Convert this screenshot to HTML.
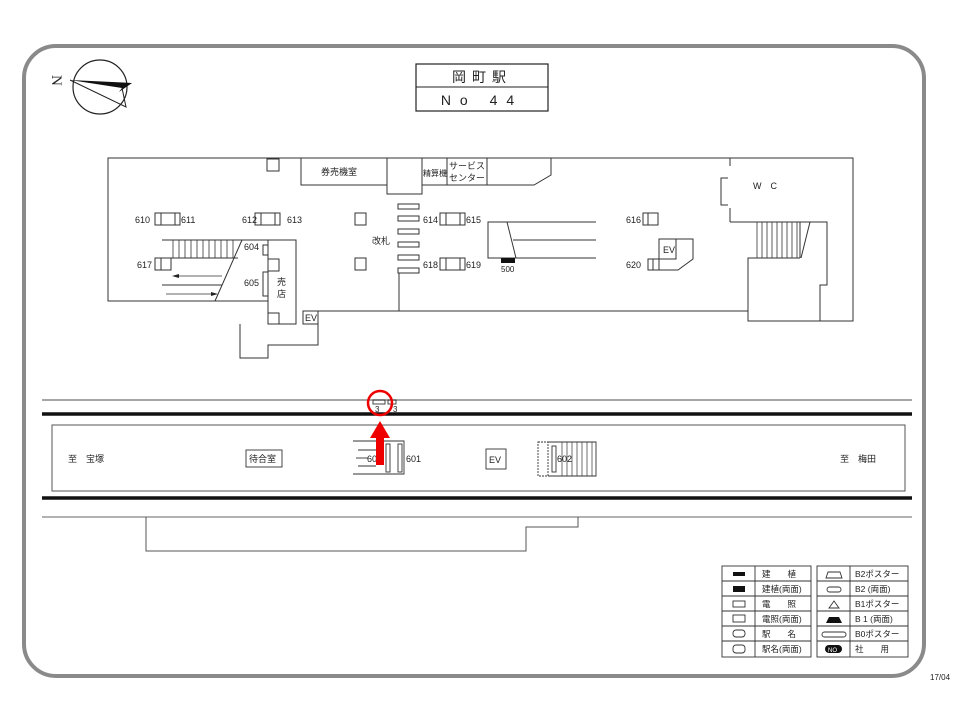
<!DOCTYPE html>
<html><head><meta charset="utf-8"><style>
body{margin:0;background:#fff}
svg{display:block;font-family:"Liberation Sans","Noto Sans CJK JP",sans-serif}
text{fill:#222}
</style></head><body>
<svg width="960" height="720" viewBox="0 0 960 720" xmlns="http://www.w3.org/2000/svg">
<rect x="24" y="46" width="900" height="630" rx="32" fill="#fff" stroke="#8a8a8a" stroke-width="4"/>
<!-- compass -->
<circle cx="100" cy="87" r="27" fill="none" stroke="#222" stroke-width="1.2"/>
<polygon points="70,80 132,83 119,92 122,88" fill="#111"/>
<polyline points="70,80 126,107 122,88" fill="none" stroke="#222" stroke-width="1"/>
<text x="0" y="0" font-size="15" font-family="Liberation Serif,serif" transform="translate(52,75) rotate(90)">N</text>
<!-- title -->
<rect x="416" y="64" width="132" height="47" fill="none" stroke="#222" stroke-width="1.2"/>
<line x1="416" y1="87" x2="548" y2="87" stroke="#222"/>
<text x="482" y="82" font-size="14" text-anchor="middle" letter-spacing="6">岡町駅</text>
<text x="482" y="105" font-size="14" text-anchor="middle" letter-spacing="9">No 44</text>
<g fill="none" stroke="#333" stroke-width="1">
<polyline points="318,311 748,311 748,321 853,321 853,158 108,158 108,301 268,301"/>
<polyline points="240,324 240,358 268,358 268,345 318,345 318,311"/>
<rect x="268" y="240" width="28" height="84"/>
<rect x="268" y="259" width="11" height="12"/>
<rect x="268" y="313" width="11" height="11"/>
<rect x="303" y="311" width="15" height="13"/>
<line x1="162" y1="240" x2="268" y2="240"/>
<line x1="242" y1="240" x2="215" y2="301"/>
<line x1="170" y1="258" x2="238" y2="258"/>
<line x1="162" y1="285" x2="222" y2="285"/>
<rect x="263" y="245" width="5" height="10"/>
<rect x="263" y="272" width="5" height="24"/>
<rect x="301" y="158" width="86" height="27"/>
<rect x="387" y="158" width="35" height="36"/>
<rect x="422" y="158" width="25" height="27"/>
<rect x="447" y="158" width="40" height="27"/>
<polyline points="487,185 534,185 551,175 551,158"/>
<rect x="267" y="159" width="12" height="12"/>
<rect x="355" y="213" width="11" height="12"/>
<rect x="355" y="258" width="11" height="12"/>
<rect x="398" y="204" width="21" height="5"/>
<rect x="398" y="216" width="21" height="5"/>
<rect x="398" y="229" width="21" height="5"/>
<rect x="398" y="242" width="21" height="5"/>
<rect x="398" y="255" width="21" height="5"/>
<rect x="398" y="268" width="21" height="5"/>
<line x1="399" y1="273" x2="399" y2="311"/>
<rect x="155" y="213" width="6" height="12"/><rect x="161" y="213" width="14" height="12"/><rect x="175" y="213" width="5" height="12"/>
<rect x="255" y="213" width="6" height="12"/><rect x="261" y="213" width="14" height="12"/><rect x="275" y="213" width="5" height="12"/>
<rect x="440" y="213" width="6" height="12"/><rect x="446" y="213" width="14" height="12"/><rect x="460" y="213" width="5" height="12"/>
<rect x="440" y="258" width="6" height="12"/><rect x="446" y="258" width="14" height="12"/><rect x="460" y="258" width="5" height="12"/>
<rect x="155" y="258" width="6" height="12"/><rect x="161" y="258" width="10" height="12"/>
<polyline points="596,222 488,222 488,258 596,258"/>
<line x1="513" y1="240" x2="596" y2="240"/>
<line x1="507" y1="222" x2="516" y2="258"/>
<rect x="643" y="213" width="5" height="12"/><rect x="648" y="213" width="10" height="12"/>
<rect x="659" y="239" width="17" height="20"/>
<polyline points="676,239 693,239 693,259 678,270 648,270 648,259 676,259"/>
<line x1="653" y1="259" x2="653" y2="270"/><line x1="659" y1="259" x2="659" y2="270"/>
<line x1="730" y1="158" x2="730" y2="166"/>
<line x1="730" y1="208" x2="730" y2="222"/>
<polyline points="728,178 721,178 721,205 728,205"/>
<polyline points="730,222 827,222 827,285 820,285 820,321"/>
<polyline points="748,321 748,258 800,258"/>
<line x1="800" y1="222" x2="800" y2="258"/>
<line x1="810" y1="222" x2="801" y2="258"/>
</g>
<g stroke="#333" stroke-width="0.8">
<line x1="173" y1="240" x2="173" y2="258"/><line x1="179" y1="240" x2="179" y2="258"/><line x1="185" y1="240" x2="185" y2="258"/><line x1="191" y1="240" x2="191" y2="258"/><line x1="197" y1="240" x2="197" y2="258"/><line x1="203" y1="240" x2="203" y2="258"/><line x1="209" y1="240" x2="209" y2="258"/><line x1="215" y1="240" x2="215" y2="258"/><line x1="221" y1="240" x2="221" y2="258"/><line x1="227" y1="240" x2="227" y2="258"/><line x1="233" y1="240" x2="233" y2="258"/>
<line x1="757" y1="222" x2="757" y2="258"/><line x1="762" y1="222" x2="762" y2="258"/><line x1="767" y1="222" x2="767" y2="258"/><line x1="772" y1="222" x2="772" y2="258"/><line x1="777" y1="222" x2="777" y2="258"/><line x1="782" y1="222" x2="782" y2="258"/><line x1="787" y1="222" x2="787" y2="258"/><line x1="792" y1="222" x2="792" y2="258"/><line x1="797" y1="222" x2="797" y2="258"/>
<line x1="222" y1="276" x2="176" y2="276"/><line x1="166" y1="294" x2="214" y2="294"/>
</g>
<polygon points="172,276 179,274 179,278" fill="#222"/><polygon points="218,294 211,292 211,296" fill="#222"/>
<rect x="501" y="258" width="14" height="5" fill="#111"/>
<g font-size="9">
<text x="135" y="223">610</text><text x="181" y="223">611</text>
<text x="242" y="223">612</text><text x="287" y="223">613</text>
<text x="423" y="223">614</text><text x="466" y="223">615</text>
<text x="423" y="268">618</text><text x="466" y="268">619</text>
<text x="137" y="268">617</text><text x="244" y="250">604</text><text x="244" y="286">605</text>
<text x="626" y="223">616</text><text x="626" y="268">620</text>
<text x="501" y="272" font-size="8">500</text>
<text x="305" y="321">EV</text><text x="663" y="253">EV</text>
<text x="321" y="175">券売機室</text><text x="423" y="176" font-size="8">精算機</text>
<text x="449" y="169">サービス</text><text x="449" y="181">センター</text>
<text x="372" y="244">改札</text><text x="277" y="285">売</text><text x="277" y="297">店</text>
<text x="753" y="189">W　C</text>
</g>
<line x1="42" y1="400" x2="912" y2="400" stroke="#888" stroke-width="1.5"/>
<line x1="42" y1="414" x2="912" y2="414" stroke="#111" stroke-width="3.5"/>
<rect x="52" y="425" width="853" height="66" fill="none" stroke="#555" stroke-width="1"/>
<line x1="42" y1="498" x2="912" y2="498" stroke="#111" stroke-width="3.5"/>
<line x1="42" y1="517" x2="912" y2="517" stroke="#666" stroke-width="1"/>
<polyline points="146,517 146,551 526,551 526,527 578,527 578,517" fill="none" stroke="#555"/>
<g fill="none" stroke="#333" stroke-width="0.9">
<rect x="373" y="400" width="12" height="4"/><rect x="388" y="400" width="8" height="4"/>
<rect x="246" y="450" width="36" height="17"/>
<rect x="486" y="449" width="20" height="20"/>
<polyline points="353,441 404,441 404,474 353,474"/>
<rect x="386" y="444" width="4" height="28"/><rect x="398" y="444" width="4" height="28"/>
<line x1="356" y1="458" x2="368" y2="458"/>
<line x1="358" y1="450" x2="376" y2="450"/><line x1="358" y1="466" x2="376" y2="466"/>
<rect x="538" y="442" width="10" height="34" stroke-dasharray="2,1"/>
<polyline points="548,442 596,442 596,476 548,476"/>
<rect x="552" y="446" width="4" height="26"/>
</g>
<g stroke="#333" stroke-width="0.7"><line x1="562" y1="442" x2="562" y2="476"/><line x1="567" y1="442" x2="567" y2="476"/><line x1="572" y1="442" x2="572" y2="476"/><line x1="577" y1="442" x2="577" y2="476"/><line x1="582" y1="442" x2="582" y2="476"/><line x1="587" y1="442" x2="587" y2="476"/><line x1="592" y1="442" x2="592" y2="476"/></g>
<g font-size="9">
<text x="375" y="412" font-size="8">3</text><text x="393" y="412" font-size="8">3</text>
<text x="68" y="462">至　宝塚</text><text x="249" y="462">待合室</text>
<text x="367" y="462">60</text><text x="406" y="462">601</text>
<text x="489" y="463">EV</text><text x="557" y="462">602</text>
<text x="840" y="462">至　梅田</text>
</g>
<circle cx="380" cy="403" r="12" fill="none" stroke="#e00" stroke-width="2.5"/>
<rect x="376" y="437" width="8" height="28" fill="#e00"/>
<polygon points="380,421 370,438 390,438" fill="#e00"/>
<g fill="none" stroke="#333" stroke-width="0.9">
<rect x="722" y="566" width="89" height="91"/><line x1="755" y1="566" x2="755" y2="657"/>
<line x1="722" y1="581" x2="811" y2="581"/><line x1="722" y1="596" x2="811" y2="596"/><line x1="722" y1="611" x2="811" y2="611"/><line x1="722" y1="626" x2="811" y2="626"/><line x1="722" y1="641" x2="811" y2="641"/>
<rect x="817" y="566" width="91" height="91"/><line x1="850" y1="566" x2="850" y2="657"/>
<line x1="817" y1="581" x2="908" y2="581"/><line x1="817" y1="596" x2="908" y2="596"/><line x1="817" y1="611" x2="908" y2="611"/><line x1="817" y1="626" x2="908" y2="626"/><line x1="817" y1="641" x2="908" y2="641"/>
<rect x="733" y="601" width="12" height="6"/><rect x="733" y="615" width="12" height="7"/>
<rect x="733" y="630" width="12" height="7" rx="3"/><rect x="733" y="645" width="12" height="8" rx="3"/>
<path d="M826,578 L828,572 L840,572 L842,578 Z"/><rect x="827" y="587" width="14" height="5" rx="2.5"/>
<polygon points="834,601 829,608 839,608"/><rect x="822" y="632" width="24" height="5" rx="2.5"/>
</g>
<rect x="733" y="572" width="12" height="4" fill="#111"/><rect x="733" y="586" width="12" height="6" fill="#111"/>
<path d="M826,623 L829,617 L839,617 L842,623 Z" fill="#111"/>
<rect x="825" y="645" width="17" height="8" rx="4" fill="#111"/>
<g font-size="8.5">
<text x="762" y="577">建　　植</text><text x="762" y="592">建植(両面)</text><text x="762" y="607">電　　照</text>
<text x="762" y="622">電照(両面)</text><text x="762" y="637">駅　　名</text><text x="762" y="652">駅名(両面)</text>
<text x="855" y="577">B2ポスター</text><text x="855" y="592">B2 (両面)</text><text x="855" y="607">B1ポスター</text>
<text x="855" y="622">B 1 (両面)</text><text x="855" y="637">B0ポスター</text><text x="855" y="652">社　　用</text>
<text x="828" y="652" font-size="6" style="fill:#fff">NO</text>
<text x="930" y="680" font-size="8">17/04</text>
</g>
</svg>
</body></html>
